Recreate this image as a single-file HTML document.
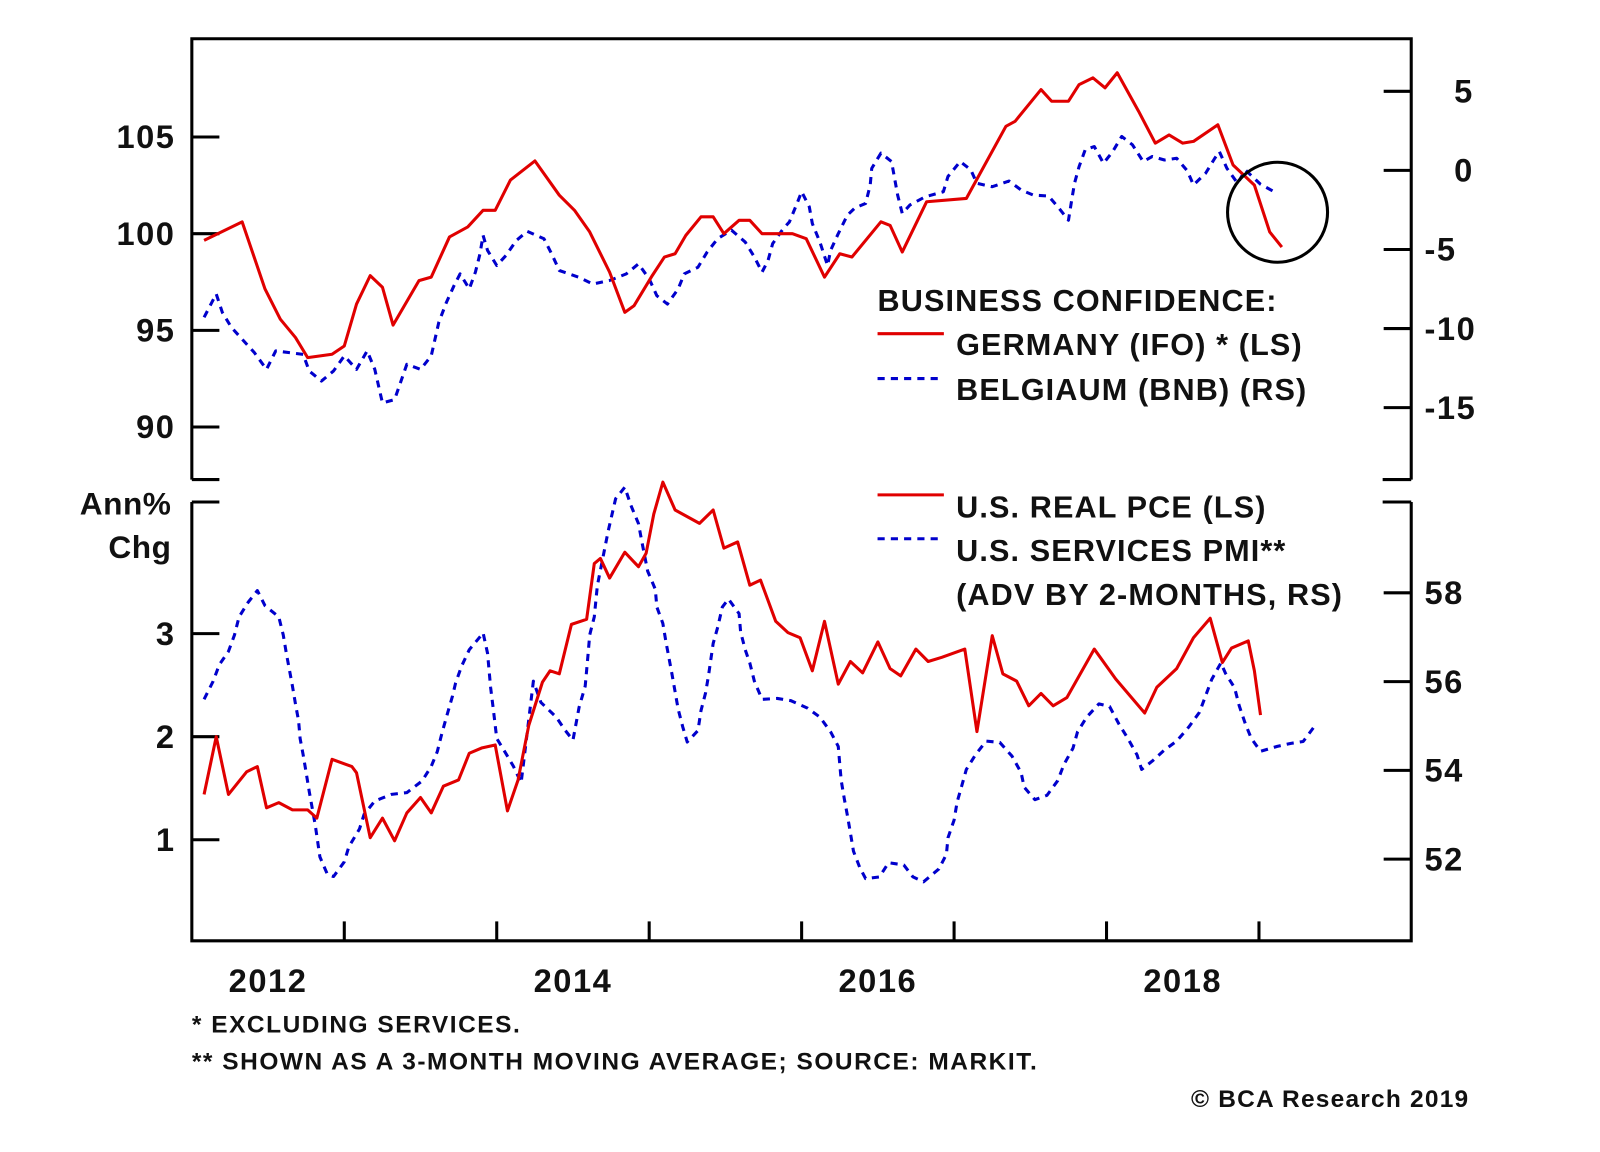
<!DOCTYPE html>
<html><head><meta charset="utf-8"><style>
html,body{margin:0;padding:0;background:#fff;}
svg{display:block;}
text{font-family:"Liberation Sans",Arial,sans-serif;font-weight:bold;fill:#111;}
.lg{font-size:30px;letter-spacing:1.1px;}
</style></head><body>
<svg id="chart" width="1600" height="1152" viewBox="0 0 1568 1129" preserveAspectRatio="none" xmlns="http://www.w3.org/2000/svg">
<g id="frame" stroke="#000" stroke-width="3" fill="none">
<path d="M188,470 V38 H1383 V470"/>
<path d="M188,470 H215 M1355,470 H1383"/>
<path d="M188,492 H215 M1355,492 H1383"/>
<path d="M188,492 V922 H1383 V492"/>
</g>
<g id="ticks" stroke="#000" stroke-width="3"></g>
<g id="labels"></g>
<g id="series"></g>
<circle cx="1252" cy="208" r="49" fill="none" stroke="#000" stroke-width="3"/>
<g id="legend">
<text class="lg" x="860" y="305">BUSINESS CONFIDENCE:</text>
<line x1="860" y1="327" x2="925" y2="327" stroke="#e00000" stroke-width="3"/>
<text class="lg" x="937" y="348">GERMANY (IFO) * (LS)</text>
<line x1="860" y1="371" x2="925" y2="371" stroke="#0000cc" stroke-width="3" stroke-dasharray="7,6"/>
<text class="lg" x="937" y="392">BELGIAUM (BNB) (RS)</text>
<line x1="860" y1="485" x2="925" y2="485" stroke="#e00000" stroke-width="3"/>
<text class="lg" x="937" y="507">U.S. REAL PCE (LS)</text>
<line x1="860" y1="528" x2="925" y2="528" stroke="#0000cc" stroke-width="3" stroke-dasharray="7,6"/>
<text class="lg" x="937" y="550">U.S. SERVICES PMI**</text>
<text class="lg" x="937" y="593">(ADV BY 2-MONTHS, RS)</text>
</g>
<text x="168" y="504" font-size="31" letter-spacing="0.5" text-anchor="end">Ann%</text>
<text x="168" y="547" font-size="31" letter-spacing="0.5" text-anchor="end">Chg</text>
<text x="188" y="1012" font-size="24" letter-spacing="1.5">*  EXCLUDING SERVICES.</text>
<text x="188" y="1048" font-size="24" letter-spacing="1.5">** SHOWN AS A 3-MONTH MOVING AVERAGE; SOURCE: MARKIT.</text>
<text x="1440" y="1085" font-size="24" letter-spacing="1.2" text-anchor="end">© BCA Research 2019</text>
</svg>
<script>
var topLeftTicks=[105,100,95,90];
var topRightTicks=[5,0,-5,-10,-15];
var botLeftTicks=[3,2,1];
var botRightTicks=[58,56,54,52];
var yearTicks=[2013,2014,2015,2016,2017,2018,2019];
var yearLabels=[2012,2014,2016,2018];

var germanyT=[2012.08,2012.33,2012.48,2012.58,2012.68,2012.76,2012.92,2013.00,2013.08,2013.17,2013.25,2013.32,2013.49,2013.57,2013.69,2013.81,2013.91,2013.99,2014.09,2014.25,2014.41,2014.51,2014.61,2014.74,2014.84,2014.90,2015.02,2015.10,2015.17,2015.24,2015.34,2015.42,2015.49,2015.59,2015.66,2015.74,2015.94,2016.03,2016.15,2016.25,2016.33,2016.52,2016.58,2016.66,2016.82,2017.08,2017.34,2017.40,2017.57,2017.64,2017.75,2017.82,2017.91,2017.99,2018.07,2018.21,2018.32,2018.41,2018.50,2018.57,2018.73,2018.83,2018.97,2019.07,2019.15];
var germanyV=[99.65,100.61,97.14,95.58,94.63,93.59,93.76,94.19,96.36,97.83,97.23,95.27,97.57,97.75,99.83,100.35,101.21,101.21,102.77,103.76,101.99,101.21,100.09,98.01,95.93,96.27,97.83,98.79,98.96,99.91,100.87,100.87,100.0,100.69,100.69,100.0,100.0,99.74,97.75,98.96,98.79,100.61,100.43,99.05,101.65,101.82,105.55,105.81,107.45,106.85,106.85,107.71,108.06,107.54,108.32,106.33,104.68,105.11,104.68,104.77,105.63,103.55,102.51,100.09,99.31];

var belgiumT=[2012.08,2012.16,2012.20,2012.26,2012.34,2012.41,2012.49,2012.55,2012.64,2012.73,2012.77,2012.85,2012.93,2013.00,2013.08,2013.15,2013.20,2013.25,2013.33,2013.41,2013.50,2013.57,2013.62,2013.67,2013.72,2013.76,2013.82,2013.86,2013.89,2013.91,2013.94,2014.00,2014.06,2014.13,2014.20,2014.31,2014.36,2014.41,2014.54,2014.63,2014.74,2014.85,2014.93,2015.00,2015.05,2015.12,2015.19,2015.23,2015.32,2015.38,2015.45,2015.54,2015.63,2015.69,2015.74,2015.78,2015.81,2015.88,2015.92,2015.97,2016.00,2016.05,2016.07,2016.12,2016.17,2016.19,2016.24,2016.30,2016.35,2016.42,2016.45,2016.46,2016.52,2016.59,2016.61,2016.63,2016.66,2016.71,2016.81,2016.93,2016.96,2017.04,2017.11,2017.15,2017.25,2017.36,2017.44,2017.52,2017.62,2017.69,2017.75,2017.77,2017.79,2017.82,2017.86,2017.92,2017.98,2018.04,2018.10,2018.17,2018.24,2018.30,2018.38,2018.46,2018.53,2018.57,2018.65,2018.71,2018.74,2018.79,2018.86,2018.91,2019.01,2019.12];
var belgiumV=[-9.29,-7.81,-8.98,-9.93,-10.78,-11.52,-12.58,-11.41,-11.52,-11.63,-12.68,-13.32,-12.68,-11.73,-12.58,-11.41,-12.58,-14.70,-14.49,-12.26,-12.58,-11.73,-9.61,-8.34,-7.28,-6.54,-7.49,-6.43,-5.27,-4.10,-5.06,-6.01,-5.38,-4.42,-3.85,-4.32,-5.27,-6.33,-6.76,-7.18,-6.96,-6.54,-5.91,-6.86,-7.92,-8.45,-7.49,-6.54,-6.12,-5.16,-4.31,-3.78,-4.53,-5.48,-6.43,-5.69,-4.63,-3.68,-3.26,-2.09,-1.35,-2.30,-3.36,-4.53,-6.01,-5.06,-4.00,-2.83,-2.37,-2.09,-0.93,0.13,1.09,0.56,-0.50,-1.56,-2.72,-2.19,-1.67,-1.35,-0.39,0.56,0.03,-0.82,-1.03,-0.67,-1.24,-1.56,-1.62,-2.41,-3.15,-1.98,-0.82,0.24,1.30,1.51,0.45,1.19,2.15,1.62,0.56,0.88,0.66,0.77,-0.03,-0.92,-0.18,0.77,1.19,0.13,-0.82,0.03,-0.88,-1.45];

var pceT=[2012.08,2012.16,2012.24,2012.36,2012.43,2012.49,2012.57,2012.66,2012.76,2012.82,2012.92,2013.05,2013.08,2013.17,2013.25,2013.33,2013.41,2013.50,2013.57,2013.65,2013.75,2013.82,2013.90,2013.99,2014.07,2014.14,2014.21,2014.30,2014.35,2014.41,2014.49,2014.59,2014.64,2014.68,2014.74,2014.84,2014.93,2014.98,2015.03,2015.09,2015.17,2015.33,2015.42,2015.49,2015.58,2015.66,2015.73,2015.83,2015.91,2015.99,2016.07,2016.15,2016.24,2016.32,2016.40,2016.50,2016.58,2016.65,2016.75,2016.83,2016.92,2017.07,2017.15,2017.25,2017.32,2017.41,2017.49,2017.57,2017.65,2017.74,2017.92,2018.06,2018.25,2018.33,2018.46,2018.57,2018.68,2018.76,2018.82,2018.93,2018.97,2019.01];
var pceV=[1.44,2.00,1.44,1.66,1.71,1.31,1.36,1.29,1.29,1.21,1.78,1.71,1.65,1.02,1.21,0.99,1.26,1.41,1.26,1.52,1.58,1.84,1.89,1.92,1.28,1.58,2.11,2.53,2.64,2.61,3.09,3.14,3.68,3.73,3.54,3.79,3.65,3.78,4.16,4.47,4.20,4.07,4.20,3.83,3.89,3.47,3.52,3.12,3.01,2.96,2.64,3.12,2.51,2.73,2.62,2.92,2.66,2.59,2.85,2.73,2.77,2.85,2.05,2.98,2.61,2.54,2.30,2.42,2.30,2.38,2.85,2.56,2.23,2.48,2.66,2.96,3.15,2.72,2.86,2.93,2.64,2.21];

var pmiT=[2012.08,2012.14,2012.18,2012.24,2012.28,2012.31,2012.37,2012.43,2012.48,2012.57,2012.60,2012.62,2012.64,2012.66,2012.68,2012.70,2012.71,2012.73,2012.75,2012.77,2012.81,2012.84,2012.89,2012.93,2013.00,2013.03,2013.10,2013.13,2013.20,2013.31,2013.41,2013.51,2013.57,2013.61,2013.64,2013.67,2013.71,2013.73,2013.77,2013.82,2013.89,2013.91,2013.94,2013.96,2013.98,2014.00,2014.06,2014.11,2014.16,2014.19,2014.24,2014.29,2014.39,2014.45,2014.50,2014.54,2014.58,2014.60,2014.61,2014.64,2014.66,2014.73,2014.78,2014.84,2014.88,2014.93,2014.95,2014.99,2015.04,2015.05,2015.09,2015.11,2015.13,2015.15,2015.19,2015.22,2015.25,2015.32,2015.34,2015.37,2015.39,2015.42,2015.45,2015.48,2015.52,2015.59,2015.60,2015.63,2015.66,2015.69,2015.74,2015.84,2015.93,2016.04,2016.12,2016.19,2016.24,2016.25,2016.26,2016.28,2016.30,2016.32,2016.34,2016.38,2016.42,2016.51,2016.57,2016.67,2016.73,2016.80,2016.90,2016.95,2016.96,2017.00,2017.02,2017.05,2017.08,2017.14,2017.21,2017.30,2017.38,2017.44,2017.46,2017.53,2017.61,2017.68,2017.72,2017.78,2017.81,2017.87,2017.95,2018.02,2018.08,2018.14,2018.20,2018.23,2018.30,2018.38,2018.46,2018.54,2018.61,2018.65,2018.69,2018.75,2018.78,2018.84,2018.87,2018.91,2018.95,2019.01,2019.12,2019.21,2019.29,2019.37];
var pmiV=[55.60,56.01,56.38,56.68,57.05,57.46,57.79,58.05,57.71,57.46,57.05,56.64,56.27,55.90,55.49,55.12,54.72,54.35,53.94,53.53,52.76,52.05,51.65,51.61,51.94,52.28,52.68,53.01,53.31,53.46,53.50,53.76,54.09,54.42,54.83,55.20,55.68,55.97,56.35,56.72,57.01,57.10,56.64,55.87,55.31,54.72,54.38,54.09,53.72,54.57,56.01,55.53,55.20,54.90,54.68,55.42,55.90,56.64,57.05,57.46,58.16,59.38,60.12,60.38,59.97,59.56,59.19,58.49,58.08,57.68,57.31,56.90,56.53,56.16,55.38,54.98,54.64,54.90,55.35,55.75,56.16,56.86,57.23,57.68,57.86,57.53,57.12,56.72,56.42,56.01,55.60,55.62,55.57,55.40,55.20,54.87,54.54,54.13,53.77,53.36,52.99,52.59,52.18,51.82,51.56,51.60,51.92,51.87,51.60,51.49,51.78,52.11,52.48,52.88,53.29,53.65,54.02,54.35,54.66,54.63,54.32,53.95,53.62,53.34,53.44,53.77,54.13,54.50,54.87,55.20,55.50,55.44,55.05,54.72,54.35,54.02,54.21,54.46,54.66,54.98,55.31,55.68,56.05,56.42,56.19,55.86,55.46,55.05,54.72,54.43,54.54,54.61,54.65,55.02];

var NS='http://www.w3.org/2000/svg';
function xs(t){return 188+(t-2012)*149.4;}
function yTL(v){return 229-(v-100)*18.95;}
function yTR(v){return 167-v*15.5;}
function yBL(v){return 722-(v-2)*101;}
function yBR(v){return 755-(v-54)*43.5;}
function mk(tag,attrs,parent){var e=document.createElementNS(NS,tag);for(var k in attrs)e.setAttribute(k,attrs[k]);parent.appendChild(e);return e;}
var ticks=document.getElementById('ticks'),labels=document.getElementById('labels'),series=document.getElementById('series');
function hTick(x1,x2,y,name){var l=mk('line',{x1:x1,x2:x2,y1:y,y2:y},ticks);

}
function lab(x,y,s,anchor,name){var t=mk('text',{x:x,y:y,'font-size':32,'letter-spacing':1.5,'text-anchor':anchor},labels);t.textContent=s;

}
topLeftTicks.forEach(function(v){var y=yTL(v);hTick(188,215,y,'top-left-tick');lab(172,y+11,String(v),'end','top-left-tick-label');});
topRightTicks.forEach(function(v){var y=yTR(v);hTick(1356,1383,y,'top-right-tick');lab(v<0?1396:1425,y+11,String(v),'start','top-right-tick-label');});
botLeftTicks.forEach(function(v){var y=yBL(v);hTick(188,215,y,'bottom-left-tick');lab(172,y+11,String(v),'end','bottom-left-tick-label');});
botRightTicks.forEach(function(v){var y=yBR(v);hTick(1356,1383,y,'bottom-right-tick');lab(1396,y+11,String(v),'start','bottom-right-tick-label');});
yearTicks.forEach(function(t){var x=xs(t);var l=mk('line',{x1:x,x2:x,y1:903,y2:922},ticks);

});
yearLabels.forEach(function(t){lab(xs(t+0.5),972,String(t),'middle','x-axis-label');});
function line(T,V,yf,color,dash,name){var d='';for(var i=0;i<T.length;i++){d+=(i?'L':'M')+xs(T[i]).toFixed(1)+','+yf(V[i]).toFixed(1);}
var a={d:d,fill:'none',stroke:color,'stroke-width':3,'stroke-linejoin':'round'};if(dash)a['stroke-dasharray']='7,6';
var p=mk('path',a,series);

}
line(belgiumT,belgiumV,yTR,'#0000cc',true,'belgium-bnb-line');
line(germanyT,germanyV,yTL,'#e00000',false,'germany-ifo-line');
line(pmiT,pmiV,yBR,'#0000cc',true,'us-services-pmi-line');
line(pceT,pceV,yBL,'#e00000',false,'us-real-pce-line');
</script>
</body></html>
